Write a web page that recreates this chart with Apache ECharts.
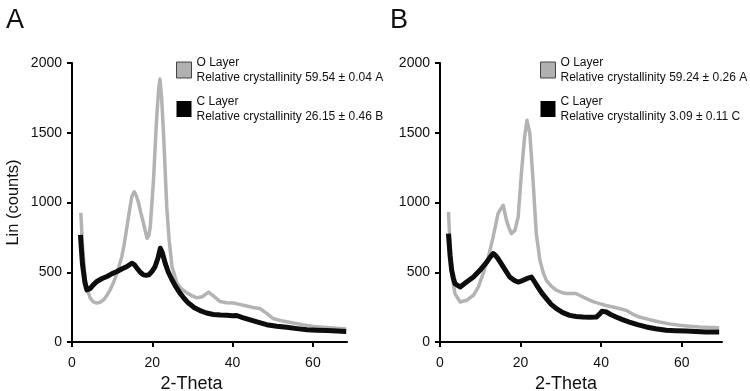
<!DOCTYPE html>
<html>
<head>
<meta charset="utf-8">
<script src="https://cdn.jsdelivr.net/npm/echarts@6/dist/echarts.min.js"></script>
<style>
  html, body { margin: 0; padding: 0; background: #fff; }
  #chart { width: 750px; height: 391px; }
</style>
</head>
<body>
<div id="chart"></div>
<script>
// panel A, O layer (grey)
const thetaAO = [2.2, 2.6, 3.3, 4.0, 4.5, 5.2, 6.2, 7.0, 7.9, 8.7, 9.5, 10.4, 11.2, 12.4, 13.0, 13.7, 14.3, 14.9, 15.5, 16.0,
  16.6, 17.2, 17.8, 18.3, 18.7, 19.1, 19.5, 20.3, 21.1, 21.6, 21.9, 22.3, 22.8, 23.6, 24.2, 24.9, 26.1, 27.3, 28.6, 30.0,
  31.1, 32.5, 34.0, 35.2, 36.9, 38.5, 40.2, 42.0, 43.5, 45.0, 46.8, 48.5, 50.1, 52.5, 55.1, 57.5, 60.1, 62.5, 65.1, 68.3]
const countsAO = [925, 700, 446, 360, 317, 290, 279, 285, 303, 335, 374, 430, 493, 612, 700, 827, 940, 1041, 1077, 1050,
  994, 920, 851, 790, 744, 760, 827, 1161, 1614, 1820, 1885, 1760, 1495, 970, 730, 541, 424, 380, 352, 330,
  317, 325, 358, 330, 290, 282, 279, 268, 258, 248, 240, 205, 168, 150, 136, 123, 112, 106, 100, 93]

// panel A, C layer (black)
const thetaAC = [2.1, 2.6, 3.2, 3.7, 4.5, 5.3, 6.2, 7.5, 8.7, 10.0, 11.2, 12.5, 13.7, 14.9, 15.5, 16.2, 17.0, 17.8, 18.5, 19.1,
  19.9, 20.7, 21.4, 22.0, 22.5, 23.2, 24.0, 24.9, 25.9, 26.9, 28.0, 29.0, 30.5, 31.9, 33.5, 35.2, 37.0, 38.6, 40.0, 41.0,
  42.5, 44.4, 46.5, 48.5, 51.0, 53.5, 56.0, 58.5, 61.0, 63.5, 66.0, 68.3]
const countsAC = [768, 560, 430, 374, 382, 410, 434, 455, 470, 490, 505, 525, 541, 565, 555, 529, 500, 481, 478, 481,
  505, 541, 600, 672, 640, 565, 500, 446, 395, 350, 310, 279, 245, 225, 208, 197, 193, 192, 188, 190,
  175, 158, 140, 124, 113, 105, 96, 88, 85, 83, 79, 76]

// panel B, O layer (grey)
const thetaBO = [2.1, 2.5, 2.9, 3.7, 5.0, 6.6, 8.3, 9.5, 10.7, 12.0, 13.2, 14.4, 15.0, 15.7, 16.5, 17.1, 17.7, 18.6, 19.4, 20.2,
  21.0, 21.6, 22.3, 23.1, 23.9, 24.8, 25.6, 26.4, 27.6, 28.9, 30.2, 31.4, 33.8, 35.0, 36.3, 38.0, 39.6, 41.2, 42.9, 44.5,
  46.2, 47.8, 49.5, 52.0, 54.5, 57.0, 59.4, 62.0, 64.4, 66.5, 69.3]
const countsBO = [932, 700, 490, 347, 287, 299, 335, 394, 490, 609, 753, 920, 950, 980, 872, 820, 777, 800, 896, 1207,
  1470, 1589, 1494, 1159, 777, 586, 500, 442, 400, 371, 355, 347, 347, 330, 311, 290, 275, 262, 251, 240,
  227, 200, 179, 160, 143, 130, 120, 113, 108, 105, 103]

// panel B, C layer (black)
const thetaBC = [2.1, 2.5, 2.9, 3.3, 3.7, 5.0, 6.6, 8.3, 9.9, 11.6, 12.5, 13.2, 13.8, 14.4, 15.7, 17.3, 18.5, 19.4, 20.5, 21.5,
  22.7, 23.5, 24.3, 25.3, 26.4, 27.6, 28.9, 30.5, 32.2, 33.8, 35.5, 37.2, 38.8, 39.6, 40.2, 41.3, 42.5, 43.7, 45.3, 47.0,
  49.0, 51.2, 53.5, 56.1, 58.5, 61.1, 63.5, 66.0, 69.3]
const countsBC = [777, 620, 514, 460, 419, 394, 430, 466, 514, 573, 610, 634, 620, 598, 538, 466, 440, 430, 440, 454,
  466, 430, 394, 350, 311, 270, 239, 210, 191, 183, 179, 178, 179, 200, 220, 215, 195, 179, 160, 143,
  125, 108, 95, 84, 81, 79, 76, 72, 72]

const xTicks = [0, 20, 40, 60]
const yTicks = [0, 500, 1000, 1500, 2000]

const legendText = {
  'O Layer A': 'O Layer\nRelative crystallinity 59.54 ± 0.04 A',
  'C Layer A': 'C Layer\nRelative crystallinity 26.15 ± 0.46 B',
  'O Layer B': 'O Layer\nRelative crystallinity 59.24 ± 0.26 A',
  'C Layer B': 'C Layer\nRelative crystallinity 3.09 ± 0.11 C'
}

const FONT = 'Liberation Sans, Arial, sans-serif'
const GREY = '#b3b3b3'
const BLACK = '#0d0d0d'

const zip = (xs, ys) => xs.map((x, i) => [x, ys[i]])

const makeX = (idx, max, pad) => ({
  type: 'value',
  gridIndex: idx,
  min: 0,
  max: max,
  interval: 20,
  name: '2-Theta',
  nameLocation: 'middle',
  nameGap: 32,
  nameTextStyle: { fontSize: 18, color: '#111', fontFamily: FONT, padding: [0, pad, 0, 0] },
  axisLine: { lineStyle: { color: '#000', width: 2 } },
  axisTick: { customValues: xTicks, length: 5, lineStyle: { color: '#000', width: 2 } },
  axisLabel: { customValues: xTicks, margin: 14, fontSize: 14, color: '#111', fontFamily: FONT },
  splitLine: { show: false }
})

const makeY = (idx, withName) => ({
  type: 'value',
  gridIndex: idx,
  min: 0,
  max: 2000,
  interval: 500,
  name: withName ? 'Lin (counts)' : '',
  nameLocation: 'middle',
  nameGap: 50,
  nameTextStyle: { fontSize: 16.5, color: '#111', fontFamily: FONT },
  axisLine: { show: true, lineStyle: { color: '#000', width: 2 } },
  axisTick: { show: true, length: 5, lineStyle: { color: '#000', width: 2 } },
  axisLabel: {
    customValues: yTicks, margin: 10, fontSize: 14, color: '#111', fontFamily: FONT,
    formatter: (v) => String(v)
  },
  splitLine: { show: false }
})

const makeSeries = (name, idx, data, color, width) => ({
  name: name,
  type: 'line',
  xAxisIndex: idx,
  yAxisIndex: idx,
  data: data,
  showSymbol: false,
  symbol: 'none',
  lineStyle: { color: color, width: width, join: 'round' },
  itemStyle: { color: color },
  z: color === BLACK ? 3 : 2
})

const makeLegend = (left, names) => ({
  left: left,
  top: 55,
  padding: 0,
  orient: 'vertical',
  itemWidth: 15,
  itemHeight: 16,
  itemGap: 9,
  selectedMode: false,
  icon: 'rect',
  data: [
    { name: names[0], itemStyle: { color: '#b0b0b0', borderColor: '#444', borderWidth: 1 } },
    { name: names[1], itemStyle: { color: '#000' } }
  ],
  formatter: (n) => legendText[n],
  textStyle: { fontSize: 12, lineHeight: 15, color: '#111', fontFamily: FONT }
})

const chart = echarts.init(document.getElementById('chart'))

const option = {
  animation: false,
  backgroundColor: '#fff',
  title: [
    { text: 'A', left: 1, top: 2, textStyle: { fontSize: 27, fontWeight: 'normal', color: '#111', fontFamily: FONT } },
    { text: 'B', left: 385, top: 2, textStyle: { fontSize: 27, fontWeight: 'normal', color: '#111', fontFamily: FONT } }
  ],
  legend: [
    makeLegend(176, ['O Layer A', 'C Layer A']),
    makeLegend(540, ['O Layer B', 'C Layer B'])
  ],
  grid: [
    { left: 72, top: 63, width: 275, height: 279, containLabel: false, outerBoundsMode: 'none' },
    { left: 440, top: 63, width: 282, height: 279, containLabel: false, outerBoundsMode: 'none' }
  ],
  xAxis: [makeX(0, 68.5, 36), makeX(1, 70, 30)],
  yAxis: [makeY(0, true), makeY(1, false)],
  series: [
    makeSeries('O Layer A', 0, zip(thetaAO, countsAO), GREY, 3.5),
    makeSeries('C Layer A', 0, zip(thetaAC, countsAC), BLACK, 5),
    makeSeries('O Layer B', 1, zip(thetaBO, countsBO), GREY, 3.5),
    makeSeries('C Layer B', 1, zip(thetaBC, countsBC), BLACK, 5)
  ]
}

chart.setOption(option)
</script>
</body>
</html>
